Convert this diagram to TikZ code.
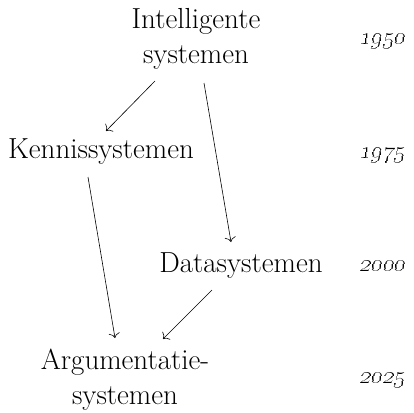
\documentclass[tikz,border=0pt]{standalone}
\usetikzlibrary{arrows.meta}
\begin{document}
\begin{tikzpicture}[x=1pt,y=-1pt,
  lbl/.style={font=\fontsize{29}{35}\selectfont, inner sep=0pt, align=center},
  yr/.style={font=\fontsize{27}{35}\selectfont, inner sep=0pt, anchor=base east, xslant=0.2, transform shape},
  arr/.style={-{To[length=5pt,width=11pt]}, line width=0.6pt}]
\useasboundingbox (0,0) rectangle (414,412);
\node[lbl] (I) at (196,39) {Intelligente\\systemen};
\node[lbl, anchor=base] (K) at (101,158) {Kennissystemen};
\node[lbl, anchor=base] (D) at (241,272) {Datasystemen};
\node[lbl] (A) at (125,380) {Argumentatie-\\systemen};
\node[yr] (y1) at (405,45) {\oldstylenums{1950}};
\node[yr] (y2) at (405,158) {\oldstylenums{1975}};
\node[yr] (y3) at (405,271) {\oldstylenums{2000}};
\node[yr] (y4) at (405,383) {\oldstylenums{2025}};
\draw[arr] ([shift={(-41,42)}]I.center) -- ([shift={(5,-27)}]K.base);
\draw[arr] ([shift={(8,44)}]I.center) -- ([shift={(-10,-30)}]D.base);
\draw[arr] ([shift={(-13,19)}]K.base) -- ([shift={(-10,-42)}]A.center);
\draw[arr] ([shift={(-29,18)}]D.base) -- ([shift={(38,-41)}]A.center);
\end{tikzpicture}
\end{document}
